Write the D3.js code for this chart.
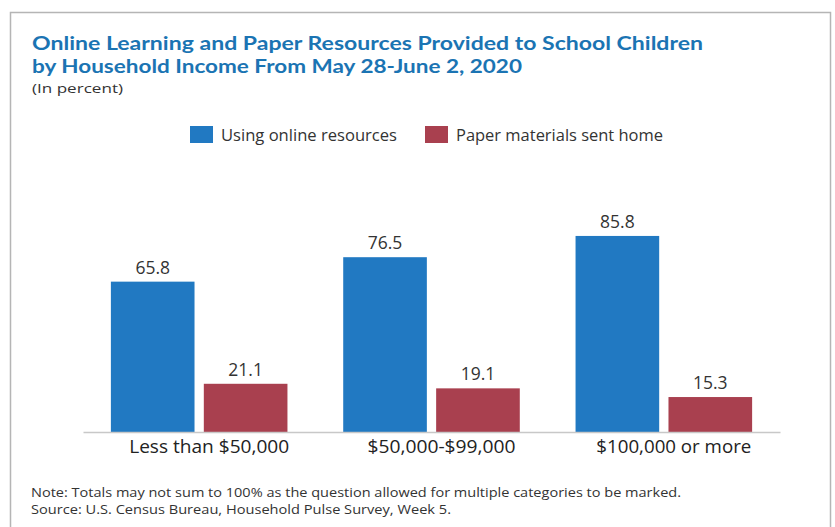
<!DOCTYPE html>
<html><head><meta charset="utf-8">
<script src="https://cdn.jsdelivr.net/npm/d3@7"></script>
<style>
html,body{margin:0;padding:0;background:#fff;}
svg{display:block;}
</style></head>
<body>
<script>
const categories = ["Less than $50,000", "$50,000-$99,000", "$100,000 or more"];
const seriesNames = ["Using online resources", "Paper materials sent home"];
const onlineValues = [65.8, 76.5, 85.8];
const paperValues = [21.1, 19.1, 15.3];
const colors = ["#2179c2", "#a9404f"];

const W = 835, H = 527;
const svg = d3.select("body").append("svg").attr("width", W).attr("height", H);
const font = "'Open Sans', 'Noto Sans', sans-serif";

function txt(x, yy, s, size, len, opts = {}) {
  const t = svg.append("text").attr("x", x).attr("y", yy)
    .attr("font-family", opts.family || font).attr("font-size", size)
    .attr("fill", opts.fill || "#333").text(s);
  if (opts.bold) t.attr("font-weight", "bold");
  if (len) t.attr("textLength", len).attr("lengthAdjust", "spacingAndGlyphs");
  return t;
}

// frame
svg.append("rect").attr("x", 10.5).attr("y", 12.5).attr("width", 820).attr("height", 530)
  .attr("fill", "none").attr("stroke", "#b5b5b5").attr("stroke-width", 1.5);

// title
txt(32, 50, "Online Learning and Paper Resources Provided to School Children", 19.5, 671,
  {family: "Lato, 'Open Sans', sans-serif", bold: true, fill: "#1b74b3"});
txt(32, 73, "by Household Income From May 28-June 2, 2020", 19.5, 490,
  {family: "Lato, 'Open Sans', sans-serif", bold: true, fill: "#1b74b3"});
txt(32, 93, "(In percent)", 13, 91);

// legend
const legendX = [190, 425];
const legendLen = [176, 207];
seriesNames.forEach((s, i) => {
  svg.append("rect").attr("x", legendX[i]).attr("y", 126).attr("width", 23).attr("height", 17).attr("fill", colors[i]);
  txt(legendX[i] + 31, 141, s, 16, legendLen[i]);
});

// scales
const x0 = d3.scaleBand().domain(categories).range([83, 780]).paddingInner(0.24).paddingOuter(0.12);
const x1 = d3.scaleBand().domain(seriesNames).range([0, x0.bandwidth()]).paddingInner(0.1);
const y = d3.scaleLinear().domain([0, 100]).range([432, 203.5]);

const data = categories.map((c, i) => ({cat: c, vals: [onlineValues[i], paperValues[i]]}));

const g = svg.append("g");
const groups = g.selectAll("g.grp").data(data).join("g").attr("class", "grp")
  .attr("transform", d => `translate(${x0(d.cat)},0)`);
groups.selectAll("rect").data(d => d.vals.map((v, j) => ({s: seriesNames[j], v, j})))
  .join("rect")
  .attr("x", d => x1(d.s)).attr("width", x1.bandwidth())
  .attr("y", d => y(d.v)).attr("height", d => y(0) - y(d.v))
  .attr("fill", d => colors[d.j]);
groups.selectAll("text.val").data(d => d.vals.map((v, j) => ({s: seriesNames[j], v, j})))
  .join("text").attr("class", "val")
  .attr("x", d => x1(d.s) + x1.bandwidth() / 2).attr("y", d => y(d.v) - 8)
  .attr("text-anchor", "middle").attr("font-family", font).attr("font-size", 17.5).attr("fill", "#333")
  .text(d => d.v.toFixed(1));

// x axis
const catLen = [160, 148, 155];
const xAxis = d3.axisBottom(x0).tickSize(0).tickPadding(9);
const ax = svg.append("g").attr("transform", "translate(0,432)").call(xAxis);
ax.select(".domain").attr("stroke", "#c8c8c8").attr("stroke-width", 1.5);
ax.selectAll(".tick text").attr("font-family", font).attr("font-size", 17.5).attr("fill", "#222")
  .attr("dx", 10)
  .attr("textLength", (d, i) => catLen[i]).attr("lengthAdjust", "spacingAndGlyphs");

// notes
txt(31, 497, "Note: Totals may not sum to 100% as the question allowed for multiple categories to be marked.", 13, 650);
txt(31, 514, "Source: U.S. Census Bureau, Household Pulse Survey, Week 5.", 13, 420);
</script>
</body></html>
